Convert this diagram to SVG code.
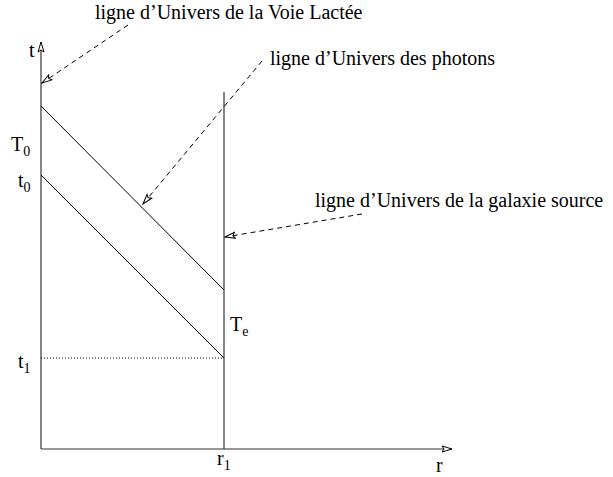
<svg xmlns="http://www.w3.org/2000/svg" width="613" height="477" viewBox="0 0 613 477">
<style>
text{font-family:"Liberation Serif","Times New Roman",serif;font-size:20px;fill:#000}
.sub{font-size:14px}
.ln{stroke:#000;stroke-width:1;fill:none}
.ax{stroke:#333;stroke-width:1.2;fill:none}
.dash{stroke:#000;stroke-width:1;stroke-dasharray:5,4;fill:none}
.dot{stroke:#000;stroke-width:1;stroke-dasharray:1,2;fill:none}
</style>
<defs>
<marker id="ah" viewBox="0 0 12 8" refX="11" refY="4" markerWidth="12" markerHeight="8" markerUnits="userSpaceOnUse" orient="auto">
<path d="M1,1 L11,4 L1,7 L3,4 Z" fill="#fff" stroke="#000" stroke-width="1"/>
</marker>
</defs>
<g id="axes">
<line class="ax" x1="41" y1="449" x2="41" y2="42" marker-end="url(#ah)"/>
<line class="ax" x1="41" y1="449" x2="452" y2="449" marker-end="url(#ah)"/>
</g>
<g id="galaxy-line"><line class="ax" x1="224" y1="92" x2="224" y2="449"/></g>
<g id="photon-lines">
<line class="ln" x1="41" y1="106" x2="224" y2="290"/>
<line class="ln" x1="41" y1="175" x2="224" y2="358"/>
</g>
<g id="t1-line"><line class="dot" x1="41" y1="358" x2="224" y2="358"/></g>
<g id="connectors">
<line class="dash" x1="128" y1="25" x2="42" y2="83" marker-end="url(#ah)"/>
<line class="dash" x1="262" y1="61" x2="143" y2="204" marker-end="url(#ah)"/>
<line class="dash" x1="362" y1="214" x2="225" y2="237" marker-end="url(#ah)"/>
</g>
<g id="labels">
<text x="95" y="19">ligne d’Univers de la Voie Lactée</text>
<text x="270" y="65">ligne d’Univers des photons</text>
<text x="315" y="207">ligne d’Univers de la galaxie source</text>
<text x="29" y="57">t</text>
<text x="11" y="151">T<tspan class="sub" dy="5">0</tspan></text>
<text x="18" y="187">t<tspan class="sub" dy="5">0</tspan></text>
<text x="18" y="368">t<tspan class="sub" dy="5">1</tspan></text>
<text x="230" y="331">T<tspan class="sub" dy="5">e</tspan></text>
<text x="217" y="465">r<tspan class="sub" dy="5">1</tspan></text>
<text x="436" y="472">r</text>
</g>
</svg>
